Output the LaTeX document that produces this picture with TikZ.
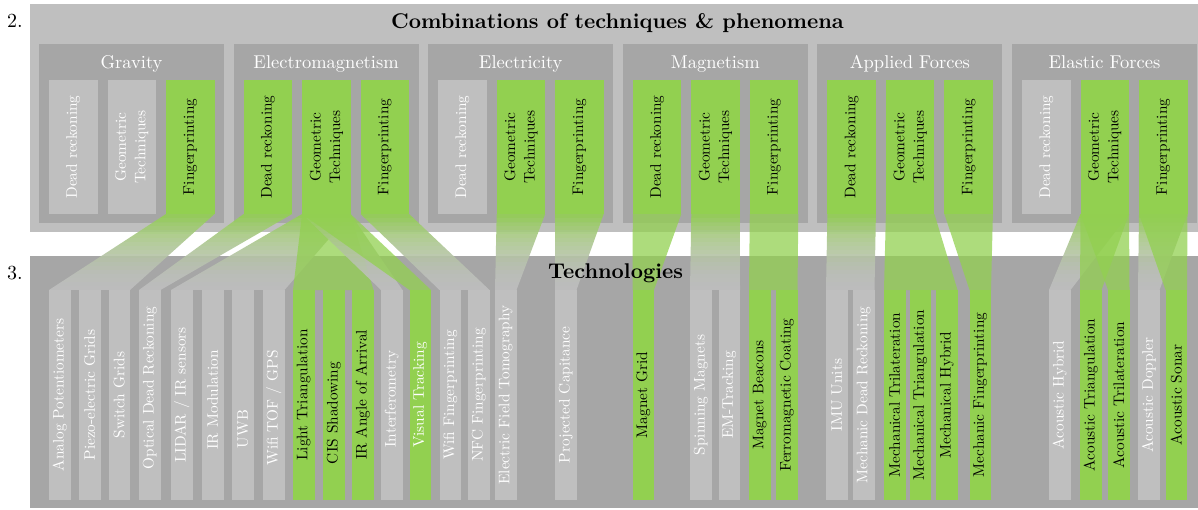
\documentclass[tikz,border=0pt]{standalone}
\usepackage{fontspec}
\setmainfont{lmroman10-regular.otf}[BoldFont=lmroman10-bold.otf]
\definecolor{lg}{RGB}{191,191,191}
\definecolor{dg}{RGB}{166,166,166}
\definecolor{gr}{RGB}{146,208,80}
\tikzset{
  cbar/.style={minimum width=48.5pt, minimum height=134pt, inner sep=0pt, outer sep=0pt},
  tbar/.style={minimum width=21.5pt, minimum height=210pt, inner sep=0pt, outer sep=0pt},
  vtext/.style={rotate=90, align=center, inner sep=0pt, font=\fontsize{15.3}{19.5}\selectfont},
  grouplabel/.style={text=white, anchor=base, font=\fontsize{18.5}{22}\selectfont},
  bigtitle/.style={anchor=base, font=\fontsize{21.3}{26}\selectfont\bfseries},
  numlabel/.style={anchor=base, font=\fontsize{20}{24}\selectfont},
  grayflow/.style={fill opacity=0.9},
  greenflow/.style={fill opacity=0.75},
}
\newcommand\combar[5]{%
  \node[cbar, fill=#3] (#1) at (#2+24.25,147) {};
  \node[vtext, text=#4] at (#1.center) {#5};}
\newcommand\techbar[6][395]{%
  \node[tbar, fill=#4] (#2) at (#3+10.75,395) {};
  \node[vtext, text=#5] at (#3+10.75,#1) {#6};}
\newcommand\groupbox[3]{%
  \fill[dg] (#2,44) rectangle (#2+185,223);
  \node[grouplabel] (#1) at (#2+92.5,68) {#3};}
% flow from a combination bar (#1) to the span of technology bars #2..#3, green fading to grey
\newcommand\flowtogray[3]{%
  \begin{scope}
    \clip (#1.south west) -- (#1.south east) -- (#3.north east) -- (#2.north west) -- cycle;
    \foreach \i in {0,...,18}{%
      \pgfmathsetmacro\p{100*(1-(\i+0.5)/19)^1.8}%
      \colorlet{flowc}{gr!\p!lg}%
      \fill[flowc, grayflow] (0,214+4*\i) rectangle (1198,218+4*\i);
    }
  \end{scope}}
% flow from a combination bar (#1) to the span of technology bars #2..#3, green
\newcommand\flowtogreen[3]{%
  \fill[gr, greenflow] (#1.south west) -- (#1.south east) -- (#3.north east) -- (#2.north west) -- cycle;}
\begin{document}
\begin{tikzpicture}[x=1pt,y=-1pt]
\useasboundingbox (0,0) rectangle (1198,509);
% panels
\fill[lg] (30,4) rectangle (1198,232);
\fill[dg] (30,256) rectangle (1198,508);
\node[numlabel] (n2) at (15,27) {2.};
\node[numlabel] (n3) at (15,279.5) {3.};
\node[bigtitle] (title2) at (617.5,28.5) {Combinations of techniques \& phenomena};
% groups
\groupbox{gGrav}{39}{Gravity}
\groupbox{gEM}{233.6}{Electromagnetism}
\groupbox{gElec}{428.2}{Electricity}
\groupbox{gMag}{622.8}{Magnetism}
\groupbox{gApp}{817.4}{Applied Forces}
\groupbox{gEla}{1012}{Elastic Forces}
% combination bars
\combar{grDR}{49}{lg}{white}{Dead reckoning}
\combar{grGT}{107.5}{lg}{white}{Geometric\\Techniques}
\combar{grFP}{166}{gr}{black}{Fingerprinting}
\combar{emDR}{243.6}{gr}{black}{Dead reckoning}
\combar{emGT}{302.1}{gr}{black}{Geometric\\Techniques}
\combar{emFP}{360.6}{gr}{black}{Fingerprinting}
\combar{elDR}{438.2}{lg}{white}{Dead reckoning}
\combar{elGT}{496.7}{gr}{black}{Geometric\\Techniques}
\combar{elFP}{555.2}{gr}{black}{Fingerprinting}
\combar{mgDR}{632.8}{gr}{black}{Dead reckoning}
\combar{mgGT}{691.3}{gr}{black}{Geometric\\Techniques}
\combar{mgFP}{749.8}{gr}{black}{Fingerprinting}
\combar{apDR}{827.4}{gr}{black}{Dead reckoning}
\combar{apGT}{885.9}{gr}{black}{Geometric\\Techniques}
\combar{apFP}{944.4}{gr}{black}{Fingerprinting}
\combar{esDR}{1022}{lg}{white}{Dead reckoning}
\combar{esGT}{1080.5}{gr}{black}{Geometric\\Techniques}
\combar{esFP}{1139}{gr}{black}{Fingerprinting}
% technology bars
\techbar{t1}{49}{lg}{white}{Analog Potentiometers}
\techbar{t2}{79}{lg}{white}{Piezo-electric Grids}
\techbar{t3}{108.5}{lg}{white}{Switch Grids}
\techbar[388]{t4}{139}{lg}{white}{Optical Dead Reckoning}
\techbar{t5}{171}{lg}{white}{LIDAR / IR sensors}
\techbar[400]{t6}{202}{lg}{white}{IR Modulation}
\techbar[429]{t7}{232}{lg}{white}{UWB}
\techbar[408]{t8}{263}{lg}{white}{Wifi TOF / GPS}
\techbar{t9}{293}{gr}{black}{Light Triangulation}
\techbar[413]{t10}{323}{gr}{black}{CIS Shadowing}
\techbar{t11}{352}{gr}{black}{IR Angle of Arrival}
\techbar[399]{t12}{381}{lg}{white}{Interferometry}
\techbar{t13}{409.5}{gr}{white}{Visual Tracking}
\techbar{t14}{439.5}{lg}{white}{Wifi Fingerprinting}
\techbar{t15}{468}{lg}{white}{NFC Fingerprinting}
\techbar{t16}{495}{lg}{white}{Electric Field Tomography}
\techbar{t17}{555}{lg}{white}{Projected Capitance}
\techbar{t18}{632.5}{gr}{black}{Magnet Grid}
\techbar{t19}{690}{lg}{white}{Spinning Magnets}
\techbar{t20}{718.5}{lg}{white}{EM-Tracking}
\techbar{t21}{749}{gr}{black}{Magnet Beacons}
\techbar{t22}{776}{gr}{black}{Ferromagnetic Coating}
\techbar{t23}{826}{lg}{white}{IMU Units}
\techbar{t24}{853}{lg}{white}{Mechanic Dead Reckoning}
\techbar{t25}{884}{gr}{black}{Mechanical Trilateration}
\techbar{t26}{909.5}{gr}{black}{Mechanical Triangulation}
\techbar{t27}{936}{gr}{black}{Mechanical Hybrid}
\techbar{t28}{969.5}{gr}{black}{Mechanic Fingerprinting}
\techbar{t29}{1049}{lg}{white}{Acoustic Hybrid}
\techbar{t30}{1080}{gr}{black}{Acoustic Triangulation}
\techbar{t31}{1108}{gr}{black}{Acoustic Trilateration}
\techbar{t32}{1138}{lg}{white}{Acoustic Doppler}
\techbar{t33}{1165.5}{gr}{black}{Acoustic Sonar}
% flows
\flowtogray{grFP}{t1}{t3}
\flowtogray{emDR}{t4}{t4}
\flowtogray{emGT}{t5}{t8}
\flowtogreen{emGT}{t9}{t11}
\flowtogray{emGT}{t12}{t12}
\flowtogreen{emGT}{t13}{t13}
\flowtogray{emFP}{t14}{t15}
\flowtogray{elGT}{t16}{t16}
\flowtogray{elFP}{t17}{t17}
\flowtogreen{mgDR}{t18}{t18}
\flowtogray{mgGT}{t19}{t20}
\flowtogreen{mgFP}{t21}{t22}
\flowtogray{apDR}{t23}{t24}
\flowtogreen{apGT}{t25}{t27}
\flowtogreen{apFP}{t28}{t28}
\flowtogray{esGT}{t29}{t29}
\flowtogreen{esGT}{t30}{t30}
\flowtogreen{esGT}{t31}{t31}
\flowtogray{esFP}{t32}{t32}
\flowtogreen{esFP}{t33}{t33}
\node[bigtitle] (title3) at (615.5,278.5) {Technologies};
\end{tikzpicture}
\end{document}
